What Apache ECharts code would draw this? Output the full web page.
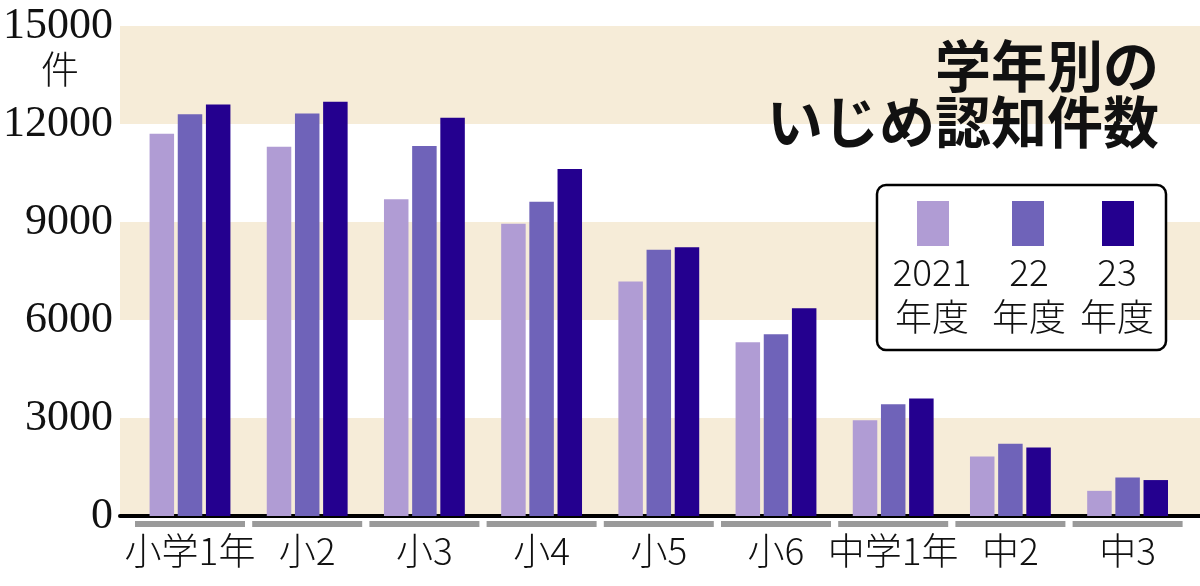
<!DOCTYPE html>
<html>
<head>
<meta charset="utf-8">
<script src="https://cdn.jsdelivr.net/npm/echarts@6/dist/echarts.min.js"></script>
<style>
html,body{margin:0;padding:0;background:#fff;}
#chart{width:1200px;height:586px;}
</style>
</head>
<body>
<div id="chart"></div>
<script>
const categories = ['小学1年', '小2', '小3', '小4', '小5', '小6', '中学1年', '中2', '中3'];
const seriesNames = ['2021年度', '22年度', '23年度'];
const legendLabels = ['2021\n年度', '22\n年度', '23\n年度'];
const fy2021 = [11700, 11300, 9700, 8950, 7180, 5320, 2930, 1820, 770];
const fy2022 = [12300, 12320, 11330, 9620, 8150, 5560, 3420, 2210, 1180];
const fy2023 = [12600, 12680, 12190, 10620, 8230, 6360, 3600, 2100, 1100];
const yTicks = { min: 0, max: 15000, interval: 3000 };
const unitLabel = '件';
const titleText = '学年別の\nいじめ認知件数';

const colors = ['#b09cd4', '#6f63b9', '#24008f'];
const JP = '"Noto Sans CJK JP", "Noto Sans", sans-serif';

const chart = echarts.init(document.getElementById('chart'), null, { renderer: 'canvas' });

const seriesData = [fy2021, fy2022, fy2023];
const legendPos = [917, 1012, 1102];
const legendTextX = [932, 1029, 1117];

const option = {
  animation: false,
  backgroundColor: '#ffffff',
  title: {
    text: titleText,
    left: 1159,
    top: 38,
    padding: 0,
    textAlign: 'right',
    textStyle: { fontFamily: JP, fontSize: 56, fontWeight: 'bold', color: '#111', lineHeight: 56 }
  },
  legend: seriesNames.map((n, i) => ({
    data: [n],
    left: legendPos[i],
    top: 201,
    padding: 0,
    itemWidth: 32,
    itemHeight: 45,
    icon: 'rect',
    selectedMode: false,
    formatter: () => '',
    z: 10
  })),
  grid: [
    { left: 120, right: 0, top: 26, bottom: 70 },
    { left: 131.4, right: 13.8, top: 26, bottom: 70 }
  ],
  xAxis: [
    {
      type: 'value', gridIndex: 0, min: 0, max: 1,
      axisLine: { show: true, lineStyle: { color: '#000', width: 4 } },
      axisTick: { show: false }, axisLabel: { show: false }, splitLine: { show: false }
    },
    {
      type: 'category', gridIndex: 1, data: categories,
      axisLine: { show: false }, axisTick: { show: false },
      axisLabel: {
        interval: 0,
        margin: 5,
        formatter: v => '{u| }\n{t|' + v + '}',
        rich: {
          u: { width: 110, height: 6, lineHeight: 6, fontSize: 4, backgroundColor: '#9a9a9a' },
          t: { fontFamily: JP, fontSize: 37, fontWeight: 300, lineHeight: 47, color: '#111' }
        }
      }
    }
  ],
  yAxis: [
    {
      type: 'value', gridIndex: 0, min: yTicks.min, max: yTicks.max, interval: yTicks.interval,
      axisLine: { show: false }, axisTick: { show: false },
      splitLine: { show: false },
      splitArea: { show: true, areaStyle: { color: ['#f6ecd8', '#ffffff'] } },
      axisLabel: {
        margin: 7,
        formatter: v => String(v),
        fontFamily: '"Liberation Serif", "DejaVu Serif", serif', fontSize: 44, color: '#111'
      }
    },
    {
      type: 'value', gridIndex: 1, min: yTicks.min, max: yTicks.max, interval: yTicks.interval,
      show: false
    }
  ],
  series: seriesNames.map((n, i) => ({
    name: n,
    type: 'bar',
    xAxisIndex: 1,
    yAxisIndex: 1,
    data: seriesData[i],
    barWidth: 24.5,
    barGap: '15%',
    itemStyle: { color: colors[i] },
    z: 3
  })),
  graphic: [
    {
      type: 'rect', z: 5,
      shape: { x: 877, y: 185, width: 289, height: 165, r: 9 },
      style: { fill: '#ffffff', stroke: '#000', lineWidth: 2.5 }
    },
    ...legendLabels.map((t, i) => ({
      type: 'text', z: 11,
      x: legendTextX[i], y: 249.5,
      style: { text: t, textAlign: 'center', fontFamily: JP, fontSize: 37, fontWeight: 300, lineHeight: 45, fill: '#111' }
    })),
    {
      type: 'text', z: 11,
      x: 60, y: 48,
      style: { text: unitLabel, textAlign: 'center', fontFamily: JP, fontSize: 38, fontWeight: 300, lineHeight: 42, fill: '#111' }
    }
  ]
};

chart.setOption(option);
</script>
</body>
</html>
